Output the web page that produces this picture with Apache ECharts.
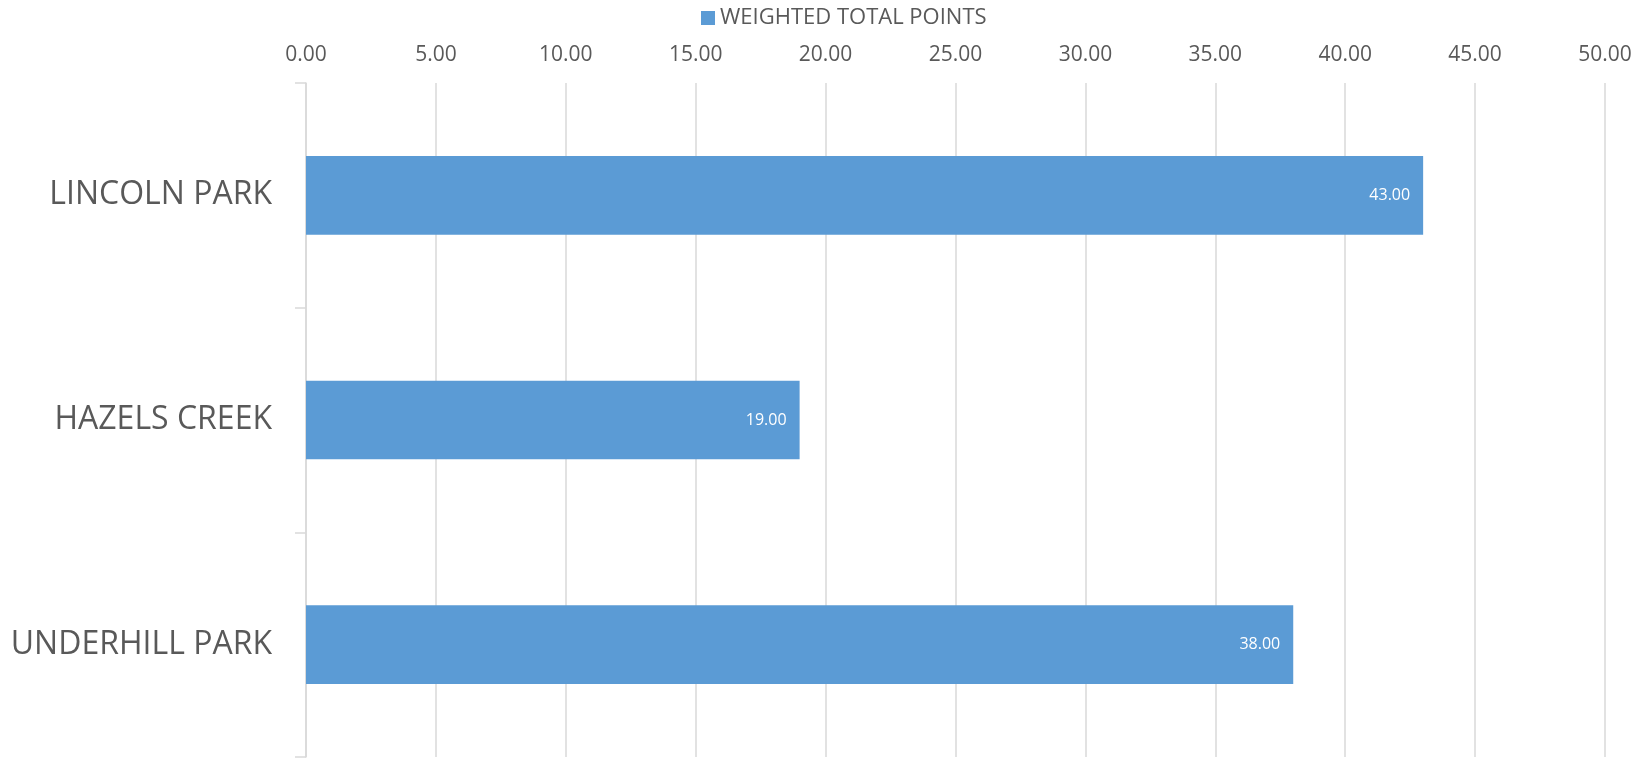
<!DOCTYPE html>
<html><head><meta charset="utf-8">
<script src="https://cdn.jsdelivr.net/npm/echarts@6/dist/echarts.min.js"></script>
<style>html,body{margin:0;padding:0;background:#fff}#c{width:1648px;height:759px}</style>
</head><body><div id="c"></div>
<script>
const categories = ['LINCOLN PARK', 'HAZELS CREEK', 'UNDERHILL PARK'];
const seriesName = 'WEIGHTED TOTAL POINTS';
const values = [43, 19, 38];
const axisMin = 0, axisMax = 50, axisStep = 5;

const chart = echarts.init(document.getElementById('c'));
const font = '"Open Sans", sans-serif';
chart.setOption({
  animation: false,
  legend: {
    top: 2, left: 696, itemWidth: 14, itemHeight: 14, itemGap: 6,
    icon: 'rect',
    textStyle: { color: '#595959', fontSize: 22, fontFamily: font },
    data: [seriesName]
  },
  grid: { left: 306, right: 43, top: 83, bottom: 2, containLabel: false },
  xAxis: {
    type: 'value', position: 'top', min: axisMin, max: axisMax, interval: axisStep,
    axisLabel: { color: '#595959', fontSize: 21, fontFamily: font, margin: 17,
      formatter: v => v.toFixed(2) },
    axisLine: { show: false }, axisTick: { show: false },
    splitLine: { lineStyle: { color: '#d9d9d9', width: 1.5 } }
  },
  yAxis: {
    type: 'category', inverse: true, data: categories,
    axisLabel: { color: '#595959', fontSize: 32, fontFamily: font, margin: 34,
      padding: [4, 0, 0, 0] },
    axisLine: { lineStyle: { color: '#d9d9d9', width: 1.5 } },
    axisTick: { show: true, length: 11, lineStyle: { color: '#d9d9d9', width: 1.5 } }
  },
  series: [{
    name: seriesName, type: 'bar', data: values, barCategoryGap: '65%',
    itemStyle: { color: '#5b9bd5' },
    label: { show: true, position: 'insideRight', distance: 13, color: '#fff',
      fontSize: 16, fontFamily: font, formatter: p => p.value.toFixed(2) }
  }]
});
</script></body></html>
